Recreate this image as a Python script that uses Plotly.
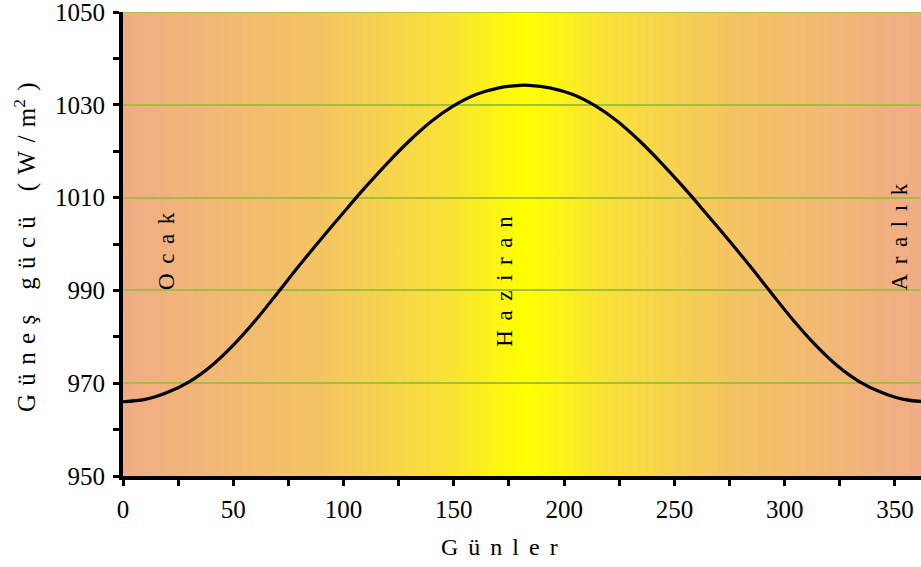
import base64

import plotly.graph_objects as go

# Solar power over the year
days = [0, 10, 20, 30, 40, 50, 60, 70, 80, 90, 100, 110, 120, 130, 140, 150,
        160, 170, 180, 184, 194, 204, 214, 224, 234, 244, 254, 264, 274, 284,
        294, 304, 314, 324, 334, 344, 354, 364]
power = [966.0, 966.5, 968.0, 970.3, 973.7, 978.2, 983.5, 989.4, 995.4, 1001.2,
         1006.8, 1012.3, 1017.5, 1022.3, 1026.5, 1029.8, 1032.2, 1033.6, 1034.2,
         1034.2, 1033.6, 1032.2, 1029.8, 1026.5, 1022.3, 1017.5, 1012.3, 1006.8,
         1001.2, 995.4, 989.4, 983.5, 978.2, 973.7, 970.3, 968.0, 966.5, 966.0]

y_ticks = [950, 970, 990, 1010, 1030, 1050]
x_ticks = [0, 50, 100, 150, 200, 250, 300, 350]

months = ["Ocak", "Haziran", "Aralık"]
month_day = [20, 173, 352]
month_val = [998.5, 992, 1001.5]

SERIF = "Liberation Serif, Times New Roman, serif"
EN = "\u2002"
THIRD = "\u2004"
GAP = "\u2004\u200a"


def spaced(s, sep=GAP):
    return sep.join(s)


# horizontal gradient backdrop: salmon -> yellow -> salmon
svg = (
    '<svg xmlns="http://www.w3.org/2000/svg" width="400" height="10" preserveAspectRatio="none">'
    '<defs><linearGradient id="g" x1="0" y1="0" x2="1" y2="0">'
    '<stop offset="0" stop-color="#F0AC86"/>'
    '<stop offset="0.25" stop-color="#F4C462"/>'
    '<stop offset="0.40" stop-color="#F9E03A"/>'
    '<stop offset="0.505" stop-color="#FFFF00"/>'
    '<stop offset="0.61" stop-color="#F9E03A"/>'
    '<stop offset="0.76" stop-color="#F4C462"/>'
    '<stop offset="1" stop-color="#F0AC86"/>'
    '</linearGradient></defs>'
    '<rect width="400" height="10" fill="url(#g)"/></svg>'
)
bg_uri = "data:image/svg+xml;base64," + base64.b64encode(svg.encode()).decode()

fig = go.Figure()

fig.add_trace(go.Scatter(
    x=days, y=power, mode="lines",
    line=dict(color="black", width=3.2, shape="spline", smoothing=1.0),
    showlegend=False, hoverinfo="skip",
))

for name, d, v in zip(months, month_day, month_val):
    fig.add_annotation(
        x=d, y=v, text=spaced(name), textangle=-90, showarrow=False,
        font=dict(family=SERIF, size=23, color="black"),
    )

# axis titles as annotations so they sit where the reference has them
y_title = (spaced("Güneş", THIRD) + EN * 2 + spaced("gücü", THIRD) + EN * 2
           + spaced("(W/m", THIRD) + "<sup>2</sup>" + THIRD + ")")
fig.add_annotation(
    xref="paper", yref="paper", x=-0.1228, y=0.4935, text=y_title,
    xanchor="center", yanchor="middle",
    textangle=-90, showarrow=False, font=dict(family=SERIF, size=25),
)
fig.add_annotation(
    xref="paper", yref="paper", x=0.4724, y=-0.153, text=spaced("Günler"),
    xanchor="center", yanchor="middle",
    showarrow=False, font=dict(family=SERIF, size=24),
)

# top gridline at 1050 (plotly leaves it out at the range edge)
fig.add_hline(y=y_ticks[-1], line=dict(color="#9CC23C", width=1.5))

fig.add_layout_image(
    source=bg_uri, xref="paper", yref="paper", x=0, y=1, sizex=1, sizey=1,
    xanchor="left", yanchor="top", sizing="stretch", layer="below",
)

fig.update_layout(
    width=921, height=567,
    margin=dict(l=123, r=0, t=12, b=91),
    paper_bgcolor="white",
    plot_bgcolor="rgba(0,0,0,0)",
    font=dict(family=SERIF, size=25, color="black"),
    xaxis=dict(
        range=[0, 361.8], tickvals=x_ticks, ticks="outside", ticklen=6,
        tickwidth=3, tickcolor="black", showline=True, linewidth=4,
        linecolor="black", showgrid=False, zeroline=False,
        ticklabeloverflow="allow", ticklabelstandoff=2,
        minor=dict(dtick=25, ticks="outside", ticklen=6, tickwidth=3,
                   tickcolor="black", showgrid=False),
    ),
    yaxis=dict(
        range=[950, 1050], tickvals=y_ticks, ticks="outside", ticklen=6,
        tickwidth=3, tickcolor="black", showline=True, linewidth=4,
        linecolor="black", showgrid=True, gridcolor="#9CC23C", gridwidth=1.5,
        zeroline=False, ticklabeloverflow="allow", ticklabelstandoff=3,
        minor=dict(dtick=10, ticks="outside", ticklen=6, tickwidth=3,
                   tickcolor="black", showgrid=False),
    ),
)

fig.write_html("out.html", config={"displayModeBar": False},
               post_script="document.body.style.margin='0';")
